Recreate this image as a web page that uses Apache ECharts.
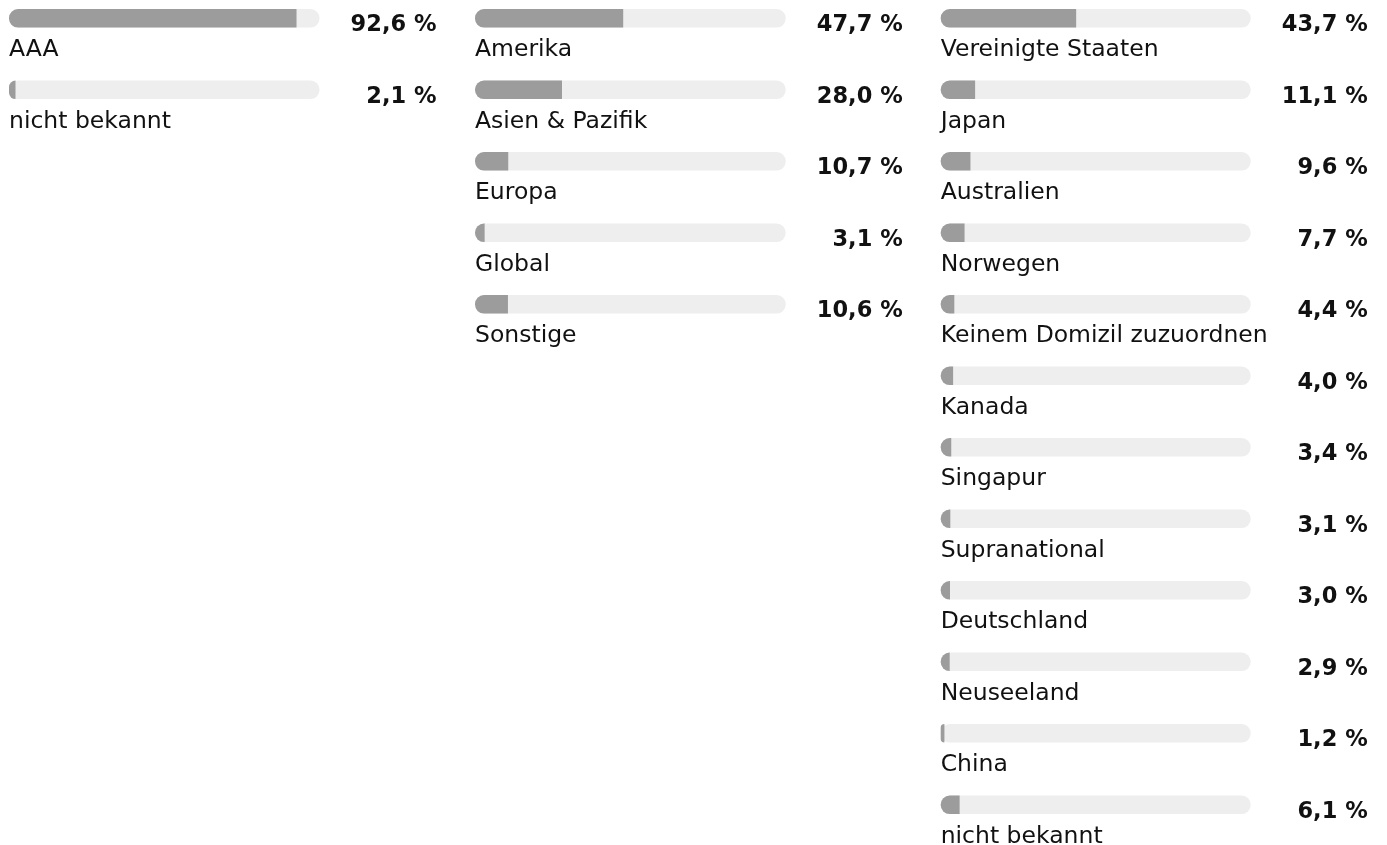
<!DOCTYPE html>
<html>
<head>
<meta charset="utf-8">
<script src="https://cdn.jsdelivr.net/npm/echarts@6/dist/echarts.min.js"></script>
<style>
  html, body { margin: 0; padding: 0; background: #fff; }
  #chart { width: 1387px; height: 845px; }
</style>
</head>
<body>
<div id="chart"></div>
<script>
// Bonität
var ratingNames = ['AAA', 'nicht bekannt'];
var ratingValues = [92.6, 2.1];

// Regionen
var regionNames = ['Amerika', 'Asien & Pazifik', 'Europa', 'Global', 'Sonstige'];
var regionValues = [47.7, 28.0, 10.7, 3.1, 10.6];

// Länder
var countryNames = ['Vereinigte Staaten', 'Japan', 'Australien', 'Norwegen',
  'Keinem Domizil zuzuordnen', 'Kanada', 'Singapur', 'Supranational',
  'Deutschland', 'Neuseeland', 'China', 'nicht bekannt'];
var countryValues = [43.7, 11.1, 9.6, 7.7, 4.4, 4.0, 3.4, 3.1, 3.0, 2.9, 1.2, 6.1];

var MAX = 100;      // volle skala, hintergrundbalken
var FONT = '"DejaVu Sans", "Noto Sans", sans-serif';
var ROW = 71.5;     // abstand der zeilen
var FIRST = 18.3;   // mitte der ersten zeile

function fmt(v) {
  return v.toFixed(1).replace('.', ',') + ' %';
}

var panels = [
  { names: ratingNames, values: ratingValues, left: 9, width: 310.5 },
  { names: regionNames, values: regionValues, left: 475, width: 310.7 },
  { names: countryNames, values: countryValues, left: 940.7, width: 310 }
];

var grids = [], xAxes = [], yAxes = [], series = [];

panels.forEach(function (p, i) {
  grids.push({
    left: p.left,
    top: FIRST - ROW / 2,
    width: p.width,
    height: ROW * p.names.length,
    containLabel: false,
    outerBoundsMode: 'none'
  });
  xAxes.push({
    type: 'value', gridIndex: i, min: 0, max: MAX, show: false
  });
  yAxes.push({
    type: 'category', gridIndex: i, inverse: true, show: false,
    data: p.names
  });
  // grauer hintergrund + prozentwert rechts
  series.push({
    type: 'bar',
    xAxisIndex: i,
    yAxisIndex: i,
    data: p.names.map(function () { return MAX; }),
    barWidth: 18.5,
    barGap: '-100%',
    silent: true,
    itemStyle: { color: '#eeeeee', borderRadius: 9 },
    label: {
      show: true,
      position: ['100%', '50%'],
      offset: [117, 7],
      align: 'right',
      verticalAlign: 'middle',
      fontFamily: FONT,
      fontSize: 22.5,
      fontWeight: 'bold',
      color: '#111',
      formatter: function (params) { return fmt(p.values[params.dataIndex]); }
    }
  });
  // anteil + name darunter
  series.push({
    type: 'bar',
    xAxisIndex: i,
    yAxisIndex: i,
    data: p.values,
    barWidth: 18.5,
    barGap: '-100%',
    silent: true,
    itemStyle: { color: '#9c9c9c', borderRadius: [9, 0, 0, 9] },
    label: {
      show: true,
      position: [0, 29],
      fontFamily: FONT,
      fontSize: 23.5,
      color: '#111',
      formatter: '{b}'
    }
  });
});

var chart = echarts.init(document.getElementById('chart'));
chart.setOption({
  animation: false,
  grid: grids,
  xAxis: xAxes,
  yAxis: yAxes,
  series: series
});
</script>
</body>
</html>
